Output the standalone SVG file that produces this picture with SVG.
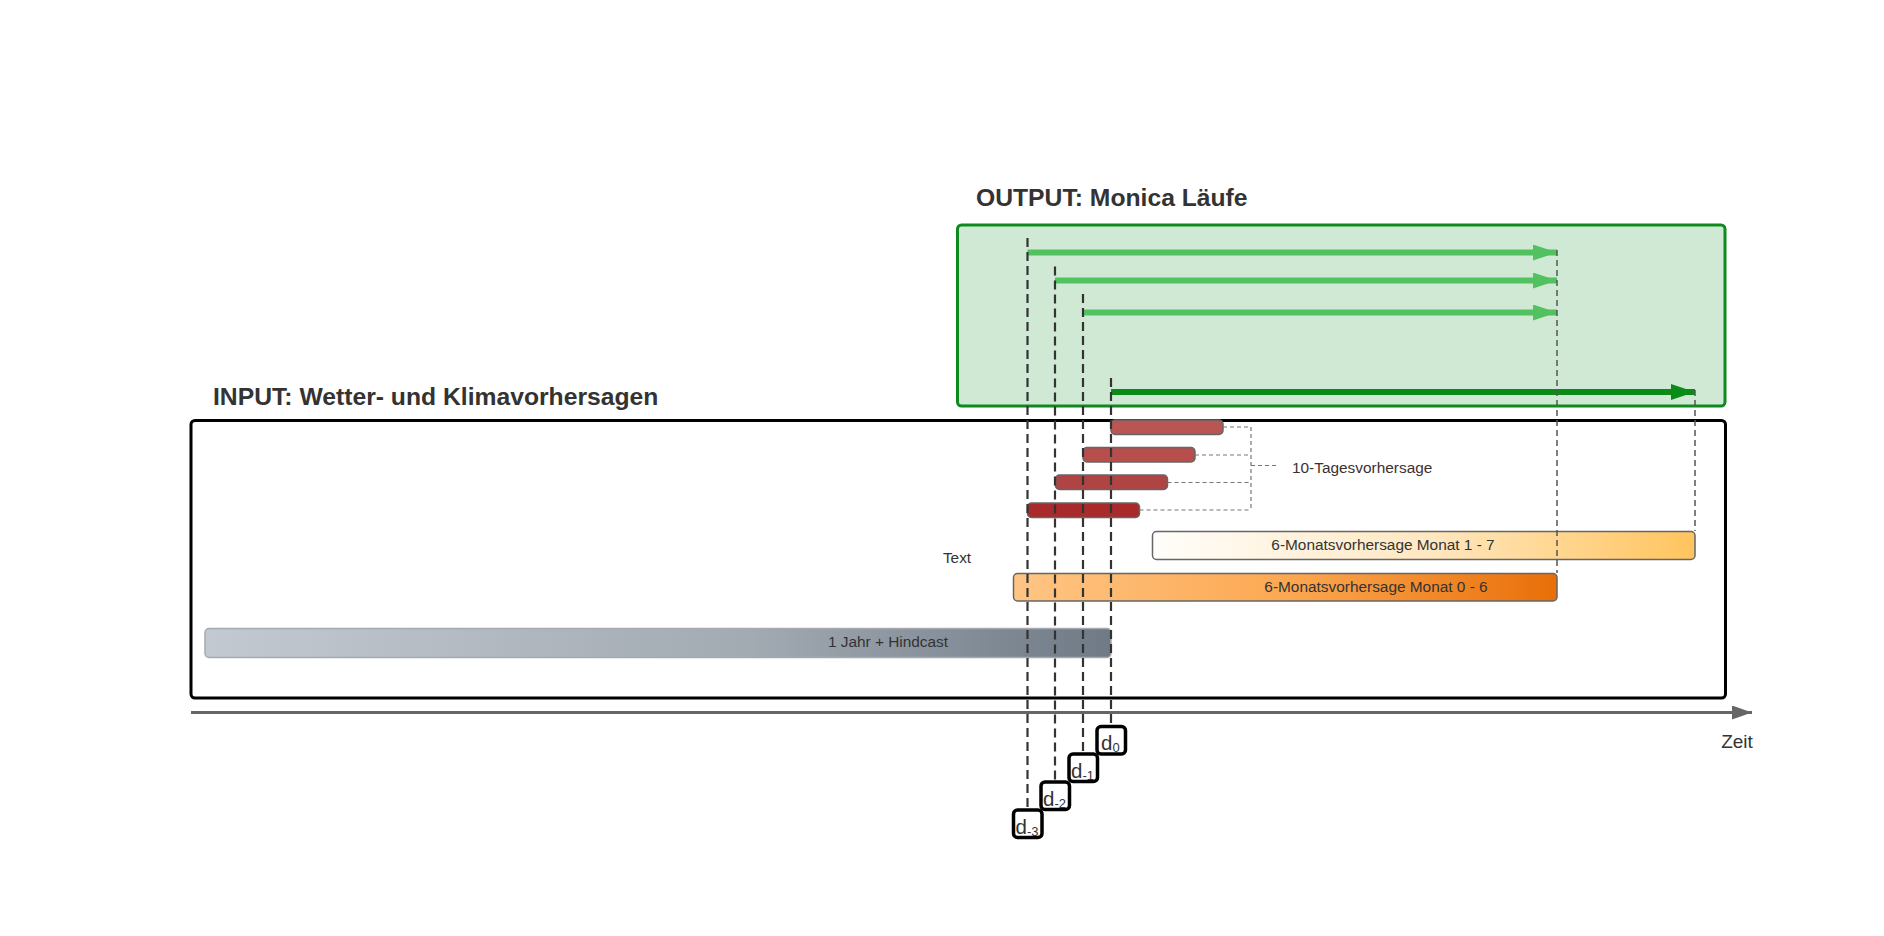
<svg xmlns="http://www.w3.org/2000/svg" width="1884" height="936" viewBox="0 0 1884 936">
<style>
.t{font-family:"Liberation Sans",Arial,sans-serif;fill:#333}
.title{font-size:24.7px;font-weight:bold}
.lbl{font-size:15.4px}
.dl{stroke:#333;stroke-width:2.2;stroke-dasharray:9 5;fill:none}
.dl2{stroke:#555;stroke-width:1.5;stroke-dasharray:6 4;fill:none}
.br{stroke:#777;stroke-width:1.2;stroke-dasharray:4 3;fill:none}
.red{stroke:#666;stroke-width:1.5}
.dbox{fill:#fff;stroke:#000;stroke-width:3.5}
.dt{font-family:"Liberation Sans",Arial,sans-serif;fill:#333;font-size:20.5px}
</style>
<defs>
<linearGradient id="gHind" x1="0" x2="1" y1="0" y2="0"><stop offset="0" stop-color="#c3c9d0"/><stop offset="0.6" stop-color="#a2aab2"/><stop offset="1" stop-color="#6f7a86"/></linearGradient>
<linearGradient id="g06" x1="0" x2="1" y1="0" y2="0"><stop offset="0" stop-color="#ffc584"/><stop offset="0.5" stop-color="#fca852"/><stop offset="1" stop-color="#e86f08"/></linearGradient>
<linearGradient id="g17" x1="0" x2="1" y1="0" y2="0"><stop offset="0" stop-color="#fffefb"/><stop offset="0.5" stop-color="#ffe8c2"/><stop offset="1" stop-color="#ffc45e"/></linearGradient>
<marker id="aL" markerUnits="userSpaceOnUse" markerWidth="24" markerHeight="16" refX="24" refY="8" orient="auto"><polygon points="0,0 24,8 0,16" fill="#52c15f"/></marker>
<marker id="aD" markerUnits="userSpaceOnUse" markerWidth="24" markerHeight="16" refX="24" refY="8" orient="auto"><polygon points="0,0 24,8 0,16" fill="#0a8a16"/></marker>
<marker id="aX" markerUnits="userSpaceOnUse" markerWidth="20" markerHeight="14" refX="20" refY="7" orient="auto"><polygon points="0,0 20,7 0,14" fill="#666"/></marker>
</defs>
<rect width="1884" height="936" fill="#fff"/>

<g id="input">
<text class="t title" x="213" y="405">INPUT: Wetter- und Klimavorhersagen</text>
<rect x="191" y="420.5" width="1534.5" height="277.5" rx="4" fill="#fff" stroke="#000" stroke-width="3"/>
</g>

<g id="output">
<text class="t title" x="976" y="206">OUTPUT: Monica Läufe</text>
<rect x="957.5" y="225" width="767.5" height="181" rx="4" fill="#d0e9d4" stroke="#0f8a1e" stroke-width="3"/>
</g>

<g id="bar-hindcast">
<rect x="205" y="628.5" width="906" height="29" rx="4" fill="url(#gHind)" stroke="#a6aab0" stroke-width="1.5"/>
<text class="t lbl" x="888" y="646.5" text-anchor="middle">1 Jahr + Hindcast</text>
</g>

<g id="bar-06">
<rect x="1013.5" y="573.5" width="543.5" height="27.5" rx="4" fill="url(#g06)" stroke="#666" stroke-width="1.5"/>
<text class="t lbl" x="1376" y="592" text-anchor="middle">6-Monatsvorhersage Monat 0 - 6</text>
</g>

<g id="bar-17">
<rect x="1152.5" y="531.5" width="542.5" height="28" rx="4" fill="url(#g17)" stroke="#666" stroke-width="1.5"/>
<text class="t lbl" x="1383" y="550" text-anchor="middle">6-Monatsvorhersage Monat 1 - 7</text>
</g>

<g id="text-label">
<text class="t lbl" x="957" y="563" text-anchor="middle">Text</text>
</g>

<g id="tage">
<rect class="red" x="1111" y="420" width="112" height="14.5" rx="4" fill="#b95552"/>
<rect class="red" x="1083" y="447.5" width="112" height="14.5" rx="4" fill="#b64e4c"/>
<rect class="red" x="1055.5" y="475" width="112" height="14.5" rx="4" fill="#b04444"/>
<rect class="red" x="1027.5" y="503" width="112" height="14.5" rx="4" fill="#a82a2a"/>
<text class="t lbl" x="1292" y="473" style="fill:#3d3030">10-Tagesvorhersage</text>
</g>

<g id="connectors">
<path class="br" d="M1223,427 H1251 M1195,455 H1251 M1167.5,482.5 H1251 M1139.5,510 H1251 M1251,427 V510 M1251,465.5 H1278"/>
<line x1="1027.5" y1="252.5" x2="1557" y2="252.5" stroke="#52c15f" stroke-width="6" marker-end="url(#aL)"/>
<line x1="1055" y1="280.5" x2="1557" y2="280.5" stroke="#52c15f" stroke-width="6" marker-end="url(#aL)"/>
<line x1="1083" y1="312.5" x2="1557" y2="312.5" stroke="#52c15f" stroke-width="6" marker-end="url(#aL)"/>
<line x1="1111" y1="392" x2="1695" y2="392" stroke="#0a8a16" stroke-width="6" marker-end="url(#aD)"/>
<line class="dl2" x1="1557" y1="250" x2="1557" y2="573"/>
<line class="dl2" x1="1695" y1="390" x2="1695" y2="531"/>
<line class="dl" x1="1027.5" y1="238" x2="1027.5" y2="810"/>
<line class="dl" x1="1055" y1="266.5" x2="1055" y2="782"/>
<line class="dl" x1="1083" y1="294" x2="1083" y2="754"/>
<line class="dl" x1="1111" y1="378" x2="1111" y2="726"/>
<line x1="191" y1="712.5" x2="1752" y2="712.5" stroke="#666" stroke-width="3" marker-end="url(#aX)"/>
</g>

<g id="zeit">
<text class="t" x="1737" y="748" text-anchor="middle" font-size="19">Zeit</text>
</g>

<g id="d0">
<rect class="dbox" x="1097" y="726.5" width="28.5" height="27.5" rx="4"/>
<text class="dt" x="1101" y="750">d<tspan font-size="13" dy="2">0</tspan></text>
</g>
<g id="d-1">
<rect class="dbox" x="1069" y="754" width="28.5" height="27.5" rx="4"/>
<text class="dt" x="1071" y="777.5">d<tspan font-size="13" dy="2">-1</tspan></text>
</g>
<g id="d-2">
<rect class="dbox" x="1041" y="782" width="28.5" height="27.5" rx="4"/>
<text class="dt" x="1043" y="805.5">d<tspan font-size="13" dy="2">-2</tspan></text>
</g>
<g id="d-3">
<rect class="dbox" x="1013.5" y="810" width="28.5" height="27.5" rx="4"/>
<text class="dt" x="1015.5" y="833.5">d<tspan font-size="13" dy="2">-3</tspan></text>
</g>
</svg>
